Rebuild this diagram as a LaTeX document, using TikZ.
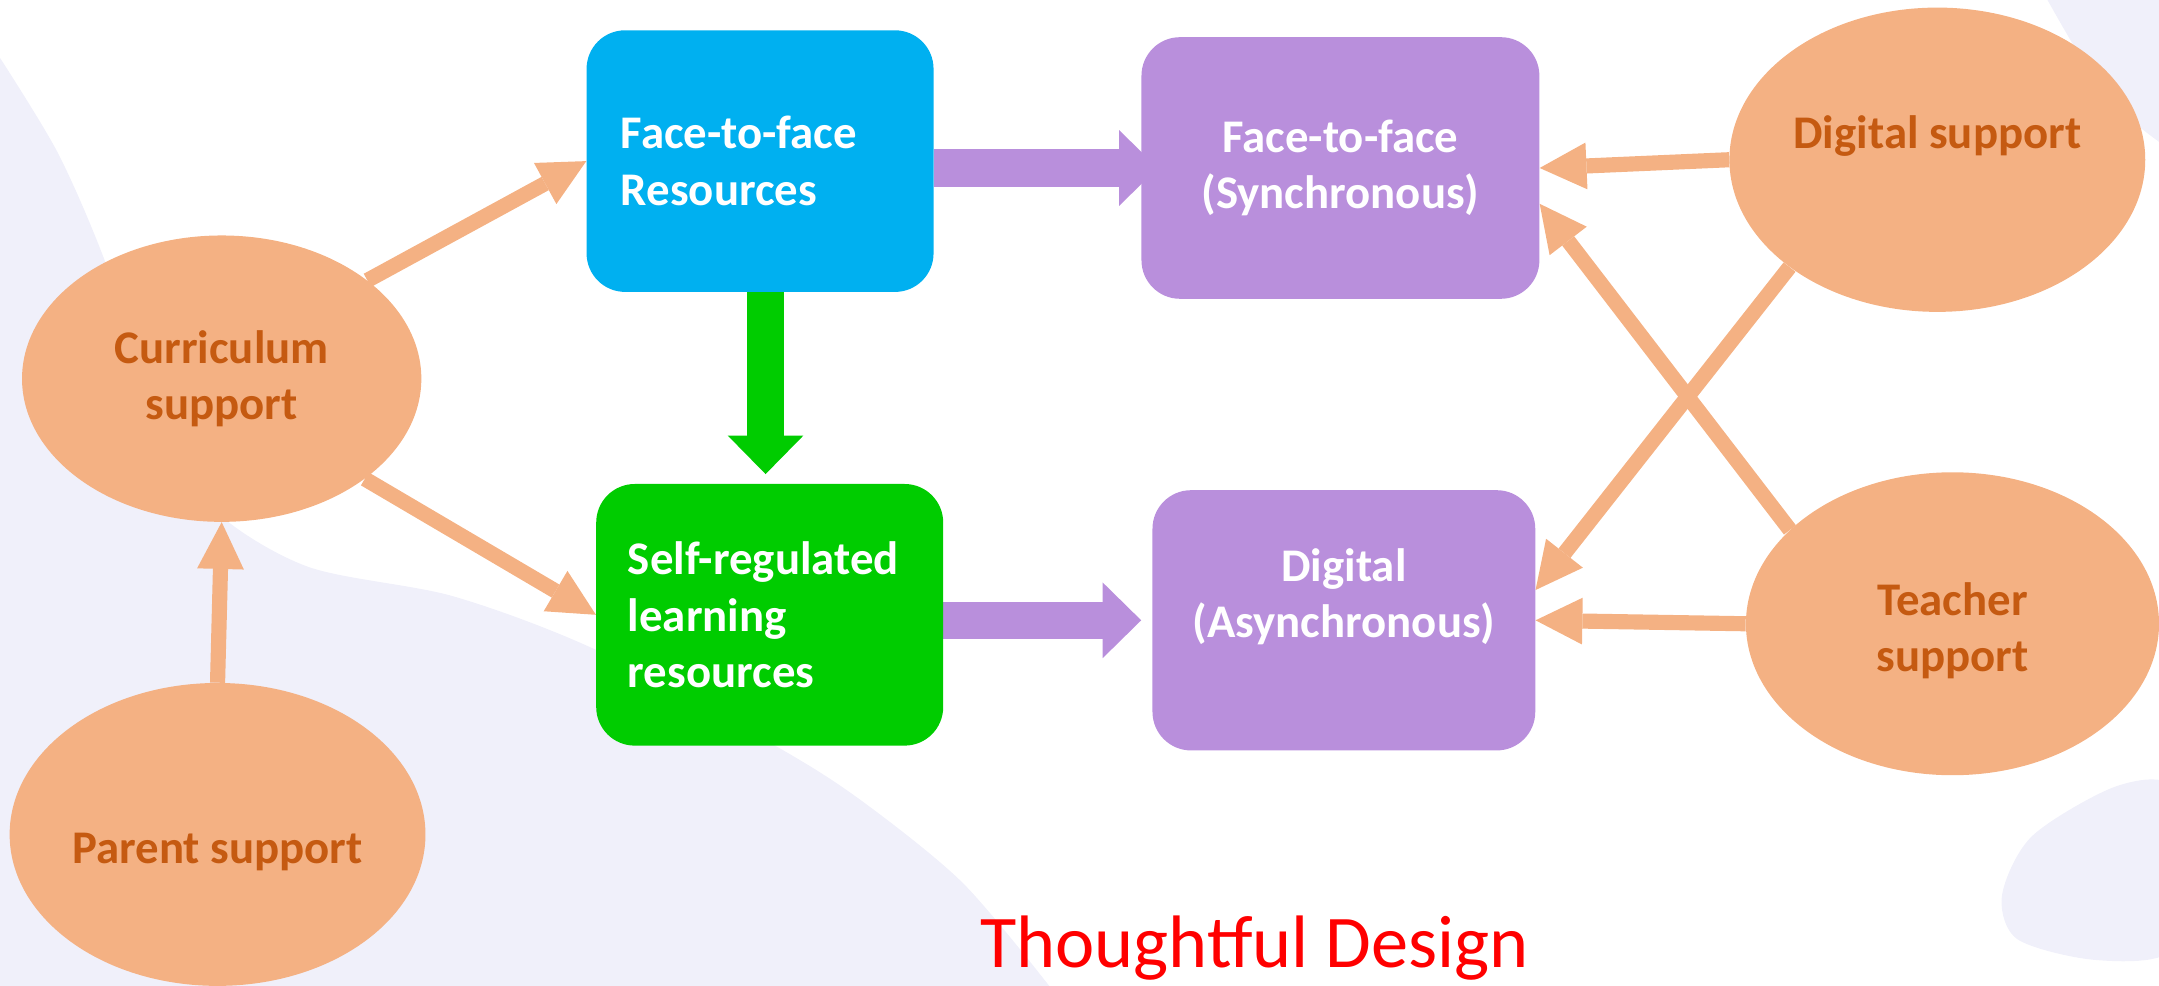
\documentclass[tikz,border=0pt]{standalone}
\usepackage{fontspec}
\setmainfont{Carlito}
\usetikzlibrary{arrows.meta, shapes.geometric, backgrounds}
\definecolor{facefill}{HTML}{00B0F0}
\definecolor{selffill}{HTML}{00CC00}
\definecolor{modefill}{HTML}{B98FDC}
\definecolor{supportfill}{HTML}{F4B183}
\definecolor{supporttext}{HTML}{C55A11}
\definecolor{backdrop}{HTML}{F0F0FA}
\tikzset{
  resource/.style = {rounded corners = 28pt, fill = #1, text = white, font = \bfseries\fontsize{34}{41}\selectfont, minimum height = 190pt, inner sep = 0pt},
  support/.style = {ellipse, fill = supportfill, text = supporttext, font = \bfseries\fontsize{34}{41}\selectfont, align = center, inner sep = 0pt, minimum width = 300pt, minimum height = 220pt},
  fat/.style = {draw = #1, line width = 27pt, -{Triangle[length = 28pt, width = 55pt, line width = 0pt]}},
  feed/.style = {draw = supportfill, line width = 11pt, -{Triangle[length = 34pt, width = 34pt, line width = 0pt]}}
}
\begin{document}
    \begin{tikzpicture}[x = 1pt, y = -1pt]
      \useasboundingbox (0, 0) rectangle (1568, 716);
      \begin{scope}[on background layer]
        \fill[color = backdrop] plot[smooth] coordinates {(0, 42) (42, 111) (76, 189) (110, 290) (150, 365) (222, 411) (329, 433) (433, 472) (562, 541) (625, 581) (699, 641) (762, 716)} -- (0, 716) -- cycle;
        \fill[color = backdrop] plot[smooth] coordinates {(1487, 0) (1511, 41) (1540, 80) (1568, 103)} -- (1568, 0) -- cycle;
        \fill[color = backdrop] plot[smooth cycle] coordinates {(1537, 571) (1580, 572) (1600, 640) (1575, 692) (1520, 697) (1465, 682) (1454, 650) (1476, 607)};
      \end{scope}
      \node[resource = facefill, text width = 202pt, inner xsep = 25pt, align = left] (face) at (552, 117) {Face-to-face\\Resources};
      \node[resource = selffill, text width = 206pt, inner xsep = 23pt, align = left] (self) at (559, 446.5) {Self-regulated\\learning\\resources};
      \node[resource = modefill, minimum width = 289pt, align = center] (sync) at (973.5, 122) {Face-to-face\\(Synchronous)};
      \node[resource = modefill, minimum width = 278pt, minimum height = 189pt, align = center, text height = 65pt, text depth = 40pt] (async) at (976, 450.5) {Digital\\(Asynchronous)};
      \node[support, minimum width = 290pt, minimum height = 208pt] (curriculum) at (161, 275) {Curriculum\\support};
      \node[support, minimum width = 302pt, text height = 50pt, text depth = 8pt] (parent) at (158, 606) {Parent support};
      \node[support, minimum width = 302pt, minimum height = 221pt, text height = 24pt, text depth = 40pt] (digital) at (1407, 116) {Digital support};
      \node[support, text height = 78pt, text depth = 8pt] (teacher) at (1418, 453) {Teacher\\support};
      \node[font = \fontsize{54}{65}\selectfont, text = red, anchor = base] (design) at (911, 703) {Thoughtful Design};
      \begin{scope}[on background layer]
        \draw[fat = selffill, shorten > = 7pt] ([xshift = 4pt]face.south) -- ([xshift = 4pt]face.south |- self.north);
        \draw[fat = modefill, shorten > = -12pt] (face.east |- sync) -- (sync.west);
        \draw[fat = modefill, shorten > = 8pt] (self.east |- async) -- (async.west);
        \draw[feed] (parent.north) -- (curriculum.south);
        \draw[feed] (curriculum.34) -- (face.west);
        \draw[feed] (curriculum.-35) -- (self.west);
        \draw[feed] (digital.west) -- (sync.east);
        \draw[feed] (digital.216) -- ([yshift = 22pt]async.east);
        \draw[feed] (teacher.west) -- (async.east);
        \draw[feed] (teacher.150) -- ([yshift = -26pt]sync.east);
      \end{scope}
    \end{tikzpicture}
\end{document}
